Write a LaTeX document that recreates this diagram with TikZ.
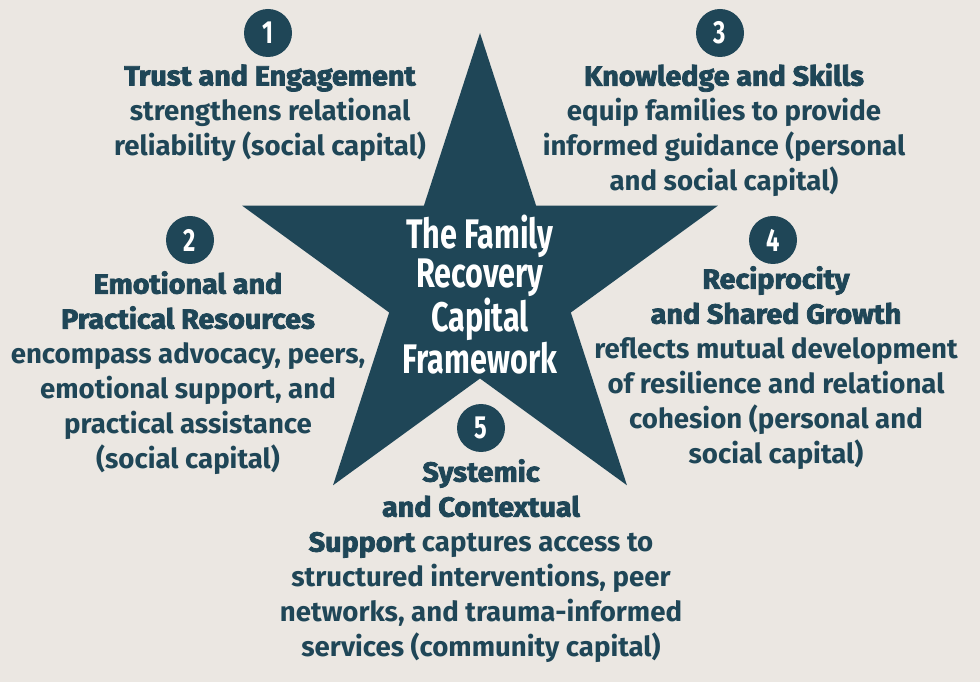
\documentclass[tikz,border=0pt]{standalone}
\usepackage{fontspec}
\setmainfont{Fira Sans}[UprightFont=* Bold,BoldFont=* Bold,BoldFeatures={FakeBold=2.8,FakeStretch=1.04}]
\newfontfamily\condfont{Fira Sans}[UprightFont=* Bold,FakeStretch=0.74]
\definecolor{paper}{RGB}{235,231,226}
\definecolor{starblue}{RGB}{31,70,87}

\begin{document}
\begin{tikzpicture}[x=0.75pt,y=0.75pt,
  numdot/.style={circle,fill=starblue,text=white,minimum size=36pt,inner sep=0pt,font=\condfont\fontsize{24}{24}\selectfont},
  blurb/.style={align=center,text=starblue,inner sep=0pt,font=\fontsize{20.7}{26.25}\selectfont}]
  % fondo
  \fill[paper] (0,0) rectangle (980,682);
  % estrella (centro 480,399)
  \fill[starblue,shift={(480,399)}] (90:250) -- (126:95.5) -- (162:250) -- (198:95.5) -- (234:250)
    -- (270:95.5) -- (306:250) -- (342:95.5) -- (18:250) -- (54:95.5) -- cycle;
  \node[text=white,align=center,inner sep=0pt,font=\condfont\fontsize{31}{29.25}\selectfont] (title) at (480,387)
    {The Family\\Recovery\\Capital\\Framework};
  % numeros
  \node[numdot] (num1) at (268,649) {1};
  \node[numdot] (num2) at (190,442) {2};
  \node[numdot] (num3) at (720,649) {3};
  \node[numdot] (num4) at (773,442) {4};
  \node[numdot] (num5) at (481,254) {5};
  % textos
  \node[blurb] (blk1) at (270,569) {\textbf{Trust and Engagement}\\strengthens relational\\reliability (social capital)};
  \node[blurb] (blk2) at (188,309) {\textbf{Emotional and}\\\textbf{Practical Resources}\\encompass advocacy, peers,\\emotional support, and\\practical assistance\\(social capital)};
  \node[blurb] (blk3) at (724,552) {\textbf{Knowledge and Skills}\\equip families to provide\\informed guidance (personal\\and social capital)};
  \node[blurb] (blk4) at (776,314) {\textbf{Reciprocity}\\\textbf{and Shared Growth}\\reflects mutual development\\of resilience and relational\\cohesion (personal and\\social capital)};
  \node[blurb] (blk5) at (481,121) {\textbf{Systemic}\\\textbf{and Contextual}\\\textbf{Support} captures access to\\structured interventions, peer\\networks, and trauma-informed\\services (community capital)};
\end{tikzpicture}
\end{document}
